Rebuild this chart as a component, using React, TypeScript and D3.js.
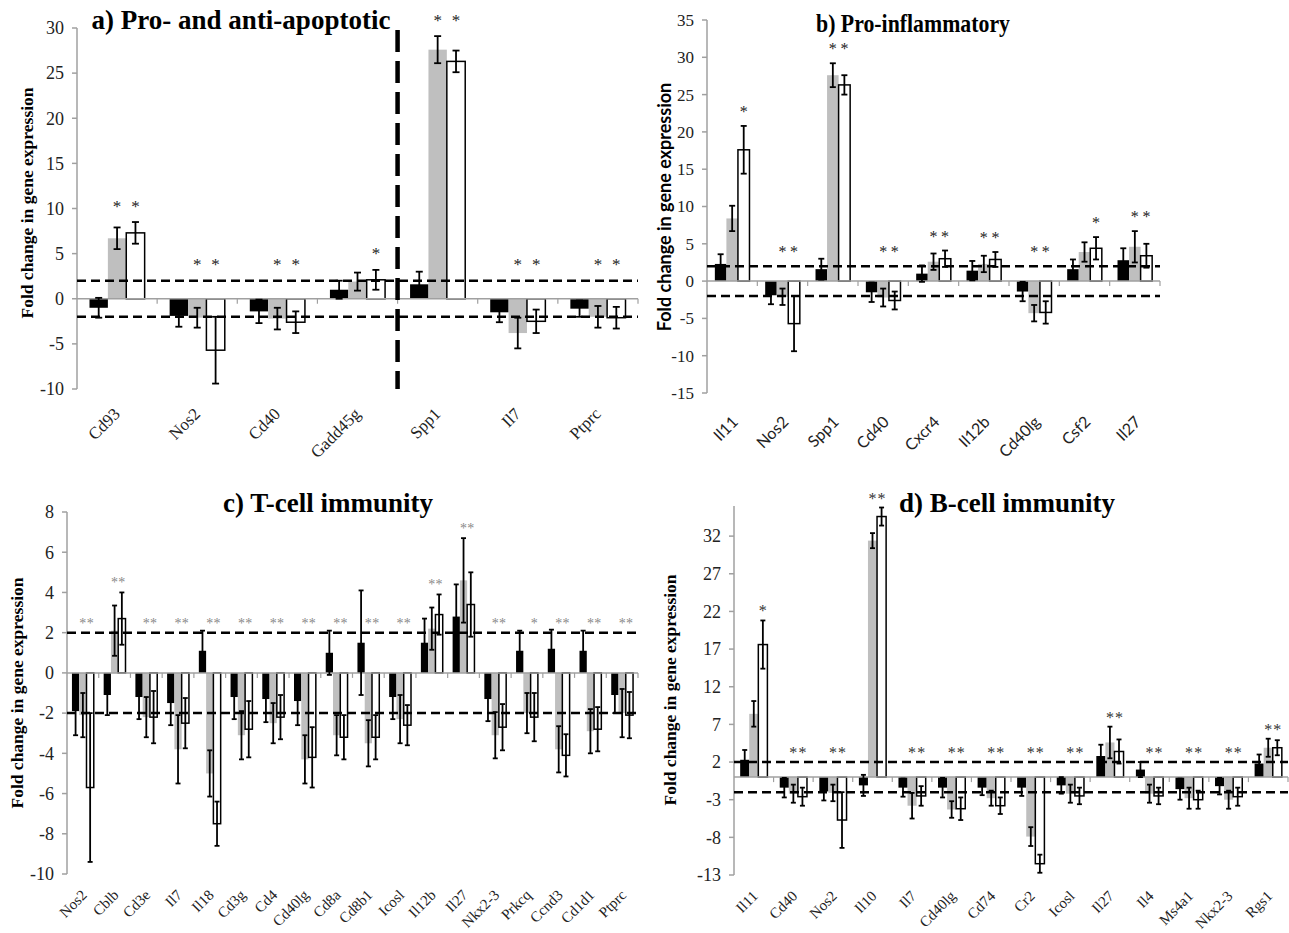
import React from "react";
import * as d3 from "d3";

// a) Pro- and anti-apoptotic
const apopGenes = ["Cd93", "Nos2", "Cd40", "Gadd45g", "Spp1", "Il7", "Ptprc"];
const apopBlack = [-1.0, -1.9, -1.4, 1.0, 1.6, -1.5, -1.1];
const apopBlackErr = [1.1, 1.2, 1.3, 1.0, 1.4, 1.1, 0.9];
const apopGray = [6.7, -2.1, -2.2, 1.9, 27.6, -3.8, -2.0];
const apopGrayErr = [1.2, 1.1, 1.2, 1.0, 1.5, 1.7, 1.2];
const apopWhite = [7.3, -5.7, -2.6, 2.1, 26.3, -2.5, -2.1];
const apopWhiteErr = [1.2, 3.7, 1.2, 1.1, 1.2, 1.3, 1.2];
const apopStarGray = [1, 1, 1, 0, 1, 1, 1];
const apopStarWhite = [1, 1, 1, 1, 1, 1, 1];
const apopTicks = [-10, -5, 0, 5, 10, 15, 20, 25, 30];

// b) Pro-inflammatory
const inflGenes = ["Il11", "Nos2", "Spp1", "Cd40", "Cxcr4", "Il12b", "Cd40lg", "Csf2", "Il27"];
const inflBlack = [2.3, -1.9, 1.6, -1.5, 1.0, 1.4, -1.4, 1.6, 2.8];
const inflBlackErr = [1.3, 1.2, 1.4, 1.3, 1.1, 1.3, 1.3, 1.3, 1.6];
const inflGray = [8.4, -2.1, 27.6, -2.2, 2.6, 2.3, -4.3, 3.9, 4.6];
const inflGrayErr = [1.7, 1.1, 1.6, 1.2, 1.1, 1.1, 1.1, 1.3, 2.1];
const inflWhite = [17.6, -5.7, 26.3, -2.6, 3.0, 2.9, -4.2, 4.4, 3.4];
const inflWhiteErr = [3.2, 3.7, 1.3, 1.2, 1.1, 1.0, 1.5, 1.5, 1.6];
const inflStarGray = [0, 1, 1, 1, 1, 1, 1, 0, 1];
const inflStarWhite = [1, 1, 1, 1, 1, 1, 1, 1, 1];
const inflTicks = [-15, -10, -5, 0, 5, 10, 15, 20, 25, 30, 35];

// c) T-cell immunity
const tGenes = ["Nos2", "Cblb", "Cd3e", "Il7", "Il18", "Cd3g", "Cd4", "Cd40lg", "Cd8a", "Cd8b1", "Icosl", "Il12b", "Il27", "Nkx2-3", "Prkcq", "Ccnd3", "Cd1d1", "Ptprc"];
const tBlack = [-1.9, -1.1, -1.2, -1.5, 1.1, -1.2, -1.3, -1.4, 1.0, 1.5, -1.2, 1.5, 2.8, -1.3, 1.1, 1.2, 1.1, -1.1];
const tBlackErr = [1.2, 1.0, 1.1, 1.1, 1.0, 1.1, 1.15, 1.2, 1.1, 2.6, 1.1, 1.2, 1.6, 1.1, 1.0, 0.95, 1.0, 0.9];
const tGray = [-2.1, 2.1, -2.2, -3.8, -5.0, -3.1, -2.5, -4.3, -3.1, -3.5, -2.3, 2.2, 4.6, -3.1, -2.0, -3.8, -2.9, -2.0];
const tGrayErr = [1.1, 1.25, 1.0, 1.7, 1.15, 1.2, 1.0, 1.2, 1.0, 1.15, 1.2, 1.05, 2.1, 1.15, 1.0, 1.15, 1.1, 1.2];
const tWhite = [-5.7, 2.7, -2.2, -2.5, -7.5, -2.8, -2.2, -4.2, -3.2, -3.2, -2.6, 2.9, 3.4, -2.7, -2.2, -4.1, -2.8, -2.1];
const tWhiteErr = [3.7, 1.3, 1.3, 1.25, 1.1, 1.4, 1.1, 1.5, 1.1, 1.1, 1.0, 1.0, 1.6, 1.15, 1.2, 1.05, 1.1, 1.15];
const tStarGray = [1, 1, 1, 1, 1, 1, 1, 1, 1, 1, 1, 1, 1, 1, 0, 1, 1, 1];
const tStarWhite = [1, 1, 1, 1, 1, 1, 1, 1, 1, 1, 1, 1, 1, 1, 1, 1, 1, 1];
const tTicks = [-10, -8, -6, -4, -2, 0, 2, 4, 6, 8];

// d) B-cell immunity
const bGenes = ["Il11", "Cd40", "Nos2", "Il10", "Il7", "Cd40lg", "Cd74", "Cr2", "Icosl", "Il27", "Il4", "Ms4a1", "Nkx2-3", "Rgs1"];
const bBlack = [2.3, -1.4, -1.9, -1.1, -1.4, -1.4, -1.4, -1.4, -1.1, 2.8, 1.0, -1.6, -1.2, 1.8];
const bBlackErr = [1.3, 1.3, 1.2, 1.4, 1.2, 1.3, 1.0, 1.1, 1.1, 1.5, 1.0, 1.4, 1.1, 1.2];
const bGray = [8.4, -2.2, -2.1, 31.4, -3.8, -4.3, -2.8, -7.9, -2.2, 4.6, -2.2, -2.8, -3.0, 3.9];
const bGrayErr = [1.7, 1.2, 1.1, 1.0, 1.7, 1.1, 1.0, 1.25, 1.2, 2.1, 1.2, 1.4, 1.2, 1.2];
const bWhite = [17.6, -2.6, -5.7, 34.6, -2.5, -4.2, -3.8, -11.5, -2.5, 3.4, -2.5, -3.0, -2.6, 3.9];
const bWhiteErr = [3.2, 1.2, 3.7, 1.2, 1.3, 1.5, 1.1, 1.2, 1.1, 1.6, 1.1, 1.2, 1.2, 1.0];
const bStarGray = [0, 1, 1, 1, 1, 1, 1, 1, 1, 1, 1, 1, 1, 1];
const bStarWhite = [1, 1, 1, 1, 1, 1, 1, 1, 1, 1, 1, 1, 1, 1];
const bTicks = [-13, -8, -3, 2, 7, 12, 17, 22, 27, 32];

const serif = "'Liberation Serif', 'Times New Roman', serif";
const sans = "Lato, 'Open Sans', sans-serif";
const GRAY = "#bfbfbf";
const AXIS = "#a0a0a0";

type PanelProps = {
  title: string;
  titlePos: [number, number];
  titleSize: number;
  titleLength?: number;
  genes: string[];
  vals: number[][];
  errs: number[][];
  starGray: number[];
  starWhite: number[];
  ticks: number[];
  domain: [number, number];
  x0: number;
  x1: number;
  yTop: number;
  yBottom: number;
  yLabelPos: [number, number];
  labelFont: string;
  yLabelSize: number;
  tickSize: number;
  catSize: number;
  catOffset: [number, number];
  starSize: number;
  starColor: string;
  starGap: number;
  cap: number;
  children?: React.ReactNode;
};

function Panel(p: PanelProps) {
  const x = d3.scaleBand().domain(p.genes).range([p.x0, p.x1]).padding(0);
  const inner = d3
    .scaleBand()
    .domain(["black", "gray", "white"])
    .range([0, x.bandwidth()])
    .paddingInner(0)
    .paddingOuter(0.68);
  const y = d3.scaleLinear().domain(p.domain).range([p.yBottom, p.yTop]);
  const y0 = y(0);
  const keys = ["black", "gray", "white"];
  const bw = inner.bandwidth();

  return (
    <g>
      <text
        x={p.titlePos[0]}
        y={p.titlePos[1]}
        textAnchor="middle"
        fontFamily={serif}
        fontWeight="bold"
        fontSize={p.titleSize}
        textLength={p.titleLength}
        lengthAdjust={p.titleLength ? "spacingAndGlyphs" : undefined}
      >
        {p.title}
      </text>
      <text
        transform={`translate(${p.yLabelPos[0]},${p.yLabelPos[1]}) rotate(-90)`}
        textAnchor="middle"
        dy="0.35em"
        fontFamily={p.labelFont}
        fontWeight="bold"
        fontSize={p.yLabelSize}
      >
        Fold change in gene expression
      </text>

      {/* y axis */}
      <line x1={p.x0} x2={p.x0} y1={y(p.domain[1])} y2={y(p.domain[0])} stroke={AXIS} strokeWidth={1.5} />
      {p.ticks.map((t) => (
        <g key={t}>
          <line x1={p.x0 - 5} x2={p.x0} y1={y(t)} y2={y(t)} stroke={AXIS} strokeWidth={1.5} />
          <text
            x={p.x0 - 13}
            y={y(t)}
            dy="0.35em"
            textAnchor="end"
            fontFamily={serif}
            fontSize={p.tickSize}
            fill="#222"
          >
            {t}
          </text>
        </g>
      ))}

      {/* bars */}
      {p.genes.map((g, i) => (
        <g key={g}>
          {keys.map((k, s) => {
            const v = p.vals[s][i];
            const bx = (x(g) as number) + (inner(k) as number);
            return (
              <rect
                key={k}
                x={bx}
                y={Math.min(y(v), y0)}
                width={bw}
                height={Math.abs(y(v) - y0)}
                fill={k === "black" ? "#000" : k === "gray" ? GRAY : "#fff"}
                stroke={k === "white" ? "#000" : "none"}
                strokeWidth={1.5}
              />
            );
          })}
        </g>
      ))}

      {/* x axis line at zero */}
      <line x1={p.x0} x2={p.x1} y1={y0} y2={y0} stroke={AXIS} strokeWidth={1.5} />
      {p.genes.map((g, i) =>
        i === 0 ? null : (
          <line key={g} x1={x(g)} x2={x(g)} y1={y0} y2={y0 + 5} stroke={AXIS} strokeWidth={1.2} />
        )
      )}
      <line x1={p.x1} x2={p.x1} y1={y0} y2={y0 + 5} stroke={AXIS} strokeWidth={1.2} />

      {/* threshold lines */}
      {[2, -2].map((t) => (
        <line
          key={t}
          x1={p.x0}
          x2={p.x1}
          y1={y(t)}
          y2={y(t)}
          stroke="#000"
          strokeWidth={2.5}
          strokeDasharray="9,5"
        />
      ))}

      {/* error bars */}
      {p.genes.map((g, i) => (
        <g key={g}>
          {keys.map((k, s) => {
            const v = p.vals[s][i];
            const e = p.errs[s][i];
            const cx = (x(g) as number) + (inner(k) as number) + bw / 2;
            return (
              <g key={k} stroke="#000" strokeWidth={1.8}>
                <line x1={cx} x2={cx} y1={y(v + e)} y2={y(v - e)} />
                <line x1={cx - p.cap / 2} x2={cx + p.cap / 2} y1={y(v + e)} y2={y(v + e)} />
                <line x1={cx - p.cap / 2} x2={cx + p.cap / 2} y1={y(v - e)} y2={y(v - e)} />
              </g>
            );
          })}
        </g>
      ))}

      {/* significance stars */}
      {p.genes.map((g, i) => {
        const tops = [2];
        if (p.starGray[i]) tops.push(p.vals[1][i] + p.errs[1][i]);
        if (p.starWhite[i]) tops.push(p.vals[2][i] + p.errs[2][i]);
        const cy = y(d3.max(tops) as number) - p.starGap;
        return (
          <g key={g}>
            {[
              ["gray", p.starGray[i]],
              ["white", p.starWhite[i]],
            ].map(([k, on]) =>
              on ? (
                <text
                  key={k as string}
                  x={(x(g) as number) + (inner(k as string) as number) + bw / 2}
                  y={cy + p.starSize * 0.5}
                  textAnchor="middle"
                  fontFamily={serif}
                  fontSize={p.starSize}
                  fill={p.starColor}
                >
                  *
                </text>
              ) : null
            )}
          </g>
        );
      })}

      {/* category labels */}
      {p.genes.map((g) => (
        <text
          key={g}
          transform={`translate(${(x(g) as number) + x.bandwidth() / 2 + p.catOffset[0]},${p.yBottom + p.catOffset[1]}) rotate(-45)`}
          textAnchor="end"
          fontFamily={p.labelFont === sans ? sans : serif}
          fontSize={p.catSize}
          fill="#222"
        >
          {g}
        </text>
      ))}
      {p.children}
    </g>
  );
}

export default function App() {
  const aDomain: [number, number] = [-10, 30];
  const ay = d3.scaleLinear().domain(aDomain).range([389, 28]);
  const ax = d3.scaleBand().domain(apopGenes).range([77, 638]);

  return (
    <svg
      width={1289}
      height={933}
      style={{ position: "absolute", left: 0, top: 0, background: "#fff" }}
    >
      <Panel
        title="a) Pro- and anti-apoptotic"
        titlePos={[241, 29]}
        titleSize={27}
        genes={apopGenes}
        vals={[apopBlack, apopGray, apopWhite]}
        errs={[apopBlackErr, apopGrayErr, apopWhiteErr]}
        starGray={apopStarGray}
        starWhite={apopStarWhite}
        ticks={apopTicks}
        domain={aDomain}
        x0={77}
        x1={638}
        yTop={28}
        yBottom={389}
        yLabelPos={[27, 203]}
        labelFont={serif}
        yLabelSize={17.5}
        tickSize={18}
        catSize={17}
        catOffset={[4, 26]}
        starSize={17}
        starColor="#222"
        starGap={19}
        cap={7}
      >
        <line
          x1={ax("Spp1")}
          x2={ax("Spp1")}
          y1={ay(30) + 2}
          y2={ay(-10)}
          stroke="#000"
          strokeWidth={4.5}
          strokeDasharray="22,9"
        />
      </Panel>

      <Panel
        title="b) Pro-inflammatory"
        titlePos={[913, 32]}
        titleSize={25}
        titleLength={194}
        genes={inflGenes}
        vals={[inflBlack, inflGray, inflWhite]}
        errs={[inflBlackErr, inflGrayErr, inflWhiteErr]}
        starGray={inflStarGray}
        starWhite={inflStarWhite}
        ticks={inflTicks}
        domain={[-15, 35]}
        x0={707}
        x1={1160}
        yTop={20}
        yBottom={393}
        yLabelPos={[665, 207]}
        labelFont={sans}
        yLabelSize={18}
        tickSize={17}
        catSize={16}
        catOffset={[7, 30]}
        starSize={16}
        starColor="#222"
        starGap={17}
        cap={6}
      />

      <Panel
        title="c) T-cell immunity"
        titlePos={[328, 512]}
        titleSize={27}
        genes={tGenes}
        vals={[tBlack, tGray, tWhite]}
        errs={[tBlackErr, tGrayErr, tWhiteErr]}
        starGray={tStarGray}
        starWhite={tStarWhite}
        ticks={tTicks}
        domain={[-10, 8]}
        x0={67}
        x1={638}
        yTop={512}
        yBottom={874}
        yLabelPos={[17, 693]}
        labelFont={serif}
        yLabelSize={17.5}
        tickSize={18}
        catSize={15}
        catOffset={[5, 22]}
        starSize={14}
        starColor="#888"
        starGap={12}
        cap={5}
      />

      <Panel
        title="d) B-cell immunity"
        titlePos={[1007, 512]}
        titleSize={27}
        genes={bGenes}
        vals={[bBlack, bGray, bWhite]}
        errs={[bBlackErr, bGrayErr, bWhiteErr]}
        starGray={bStarGray}
        starWhite={bStarWhite}
        ticks={bTicks}
        domain={[-13, 36]}
        x0={734}
        x1={1288}
        yTop={506}
        yBottom={875}
        yLabelPos={[670, 690]}
        labelFont={serif}
        yLabelSize={17.5}
        tickSize={18}
        catSize={15}
        catOffset={[5, 22]}
        starSize={16}
        starColor="#333"
        starGap={12}
        cap={5}
      />
    </svg>
  );
}
